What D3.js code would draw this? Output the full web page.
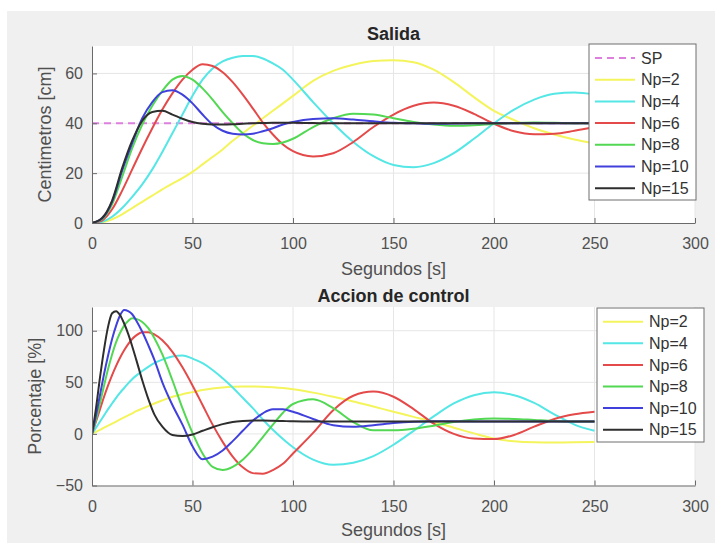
<!DOCTYPE html>
<html>
<head>
<meta charset="utf-8">
<script src="https://cdn.jsdelivr.net/npm/d3@7"></script>
<style>
  body { margin: 0; background: #fff; }
  svg { display: block; font-family: "Liberation Sans", Arial, sans-serif; }
</style>
</head>
<body>
<svg id="chart" width="715" height="543"></svg>
<script>
// time axis of the "Salida" panel (s)
const T = [0, 5, 10, 15, 20, 25, 30, 35, 40, 45, 50, 55, 60, 65, 70, 75, 80, 85, 90, 95,
  100, 110, 120, 130, 140, 150, 160, 170, 180, 190, 200, 210, 220, 230, 240, 250];

// output level (cm)
const yNp2 = [0, 0.3, 1.5, 3.5, 6, 8.5, 11, 13.5, 15.8, 18, 20.5, 23.5, 26.5, 29.5, 33, 36, 39, 42, 45, 48,
  51, 57, 61, 63.5, 65, 65.3, 64.5, 61.5, 56.5, 50.5, 45, 41.3, 38, 35.5, 33.5, 32];
const yNp4 = [0, 0.5, 2.5, 6, 10.5, 15.5, 21.5, 28.5, 36, 43.5, 51, 57.5, 62, 64.8, 66.3, 67, 67, 66, 64, 61.5,
  57.5, 48.5, 40, 32.5, 26.8, 23.3, 22.4, 24, 28, 33.8, 40, 45.5, 49.5, 51.8, 52.3, 51.5];
const yNp6 = [0, 1, 5.5, 13, 21.5, 30, 38, 45.5, 52, 57.5, 61.5, 63.7, 63, 60.5, 56.5, 51.5, 46, 40.3, 35.5, 31.5,
  28.8, 26.7, 28, 32.5, 38.5, 43.5, 47, 48.3, 47, 43.8, 39.8, 36.8, 35.6, 35.8, 37, 38.5];
const yNp8 = [0, 1.5, 7.5, 18.5, 30, 39.5, 47, 53, 57.5, 59, 57.5, 54, 49.5, 44.5, 40, 36, 33.3, 32, 31.7, 32.3,
  33.8, 38.5, 42, 43.8, 43.5, 42, 40.5, 39.5, 39, 39.2, 39.7, 40.1, 40.3, 40.2, 40, 40];
const yNp10 = [0, 1.8, 8.5, 21, 32, 42, 48.5, 52.5, 53.3, 51.5, 48, 43.5, 39.5, 37, 35.8, 35.5, 35.8, 36.8, 38, 39.5,
  40.5, 41.7, 42, 41.5, 40.8, 40.2, 40, 39.8, 39.9, 40, 40, 40, 40, 40, 40, 40];
const yNp15 = [0, 2, 9, 22, 33, 41, 44.5, 45, 43.5, 41.8, 40.5, 39.8, 39.5, 39.5, 39.6, 39.8, 40, 40.1, 40.2, 40.2,
  40.2, 40.1, 40, 40, 40, 40, 40, 40, 40, 40, 40, 40, 40, 40, 40, 40];

// set point
const spT = [0, 250];
const spY = [40, 40];

// time axis of the "Accion de control" panel (s)
const Tu = [0, 2, 4, 6, 8, 10, 12, 14, 16, 18, 20, 22, 25, 28, 31, 35, 40, 45, 50, 55,
  60, 65, 70, 75, 80, 85, 90, 95, 100, 110, 120, 130, 140, 150, 160, 170, 180, 190, 200, 210,
  220, 230, 240, 250];

// control action (%)
const uNp2 = [0, 2, 4, 6, 8, 10, 12, 14, 16, 18, 20, 22, 24.5, 27, 29.5, 32.5, 36, 38.5, 40.5, 42.5,
  44, 45, 45.7, 46, 46, 45.8, 45.3, 44.5, 43.3, 40, 36, 31.5, 26.5, 21.5, 16.5, 11.5, 6, 0.5, -4.5, -7.2,
  -8.2, -8.4, -8.2, -7.8];
const uNp4 = [0, 6, 12, 18, 24, 29.5, 35, 40, 44.5, 49, 53, 56.5, 61, 65, 68.5, 72, 75, 76, 73, 68.5,
  62, 54, 45, 35, 25, 14, 4, -5, -13, -25, -30, -28, -21.5, -10.5, 3, 17, 29.5, 37.5, 40.3, 37.5,
  30, 19, 9, 3];
const uNp6 = [0, 12, 24, 36, 47, 57, 66, 74, 81, 87, 92, 95.5, 98.5, 98.5, 96.4, 90.7, 79.5, 64.5, 47, 28,
  9, -7.7, -22, -32.4, -38, -38.6, -35, -29, -19, 1, 23, 37, 41, 36, 24, 10, 0, -4.5, -5, -1,
  7, 14.5, 19, 21.5];
const uNp8 = [0, 14, 30, 47, 63, 77, 89, 98, 105, 109.5, 112, 111.5, 108.5, 102.5, 93, 77, 52, 25, 1, -19,
  -32, -35, -32, -25, -15, -3, 9, 20.5, 29, 33.5, 25, 11.5, 3.5, 3.5, 5, 8, 11.5, 14, 15, 14.5,
  13.5, 12.5, 12, 12];
const uNp10 = [0, 18, 38, 58, 76, 92, 105, 115, 120, 119, 116, 110, 99, 86, 72, 50, 28, 9, -12, -24.5,
  -22, -16, -7, 3, 12.7, 20, 23.8, 23.8, 21.5, 14.5, 8.5, 7, 8.5, 10.5, 11.8, 12.3, 12.2, 12, 12, 12,
  12, 12, 12, 12];
const uNp15 = [0, 25, 55, 82, 104, 117, 119, 115, 107, 97, 85, 72, 52, 34, 19, 7, -1, -2, -0.5, 3,
  6.5, 9.5, 11.5, 12.5, 13, 13, 12.8, 12.5, 12.2, 12, 12, 12, 12, 12, 12, 12, 12, 12, 12, 12,
  12, 12, 12, 12];

const NAMES = ["Np=2", "Np=4", "Np=6", "Np=8", "Np=10", "Np=15"];
const COLORS = ["#f4f45c", "#55e6e6", "#e44a4a", "#52d852", "#4040dc", "#2e2e2e"];
const X_TICKS = [0, 50, 100, 150, 200, 250, 300];

const svg = d3.select("#chart");
const PLOT_LEFT = 92, PLOT_RIGHT = 695;

// grey figure background
svg.append("rect")
  .attr("x", 7).attr("y", 11)
  .attr("width", 708).attr("height", 532)
  .attr("fill", "#f0f0f0");

const zip = (ts, vs) => ts.map((t, i) => [t, vs[i]]);

function panel(opt) {
  const x = d3.scaleLinear().domain([0, 300]).range([PLOT_LEFT, PLOT_RIGHT]);
  const y = d3.scaleLinear().domain(opt.yDomain).range([opt.bottom, opt.top]);
  const g = svg.append("g");

  g.append("rect")
    .attr("x", PLOT_LEFT).attr("y", opt.top)
    .attr("width", PLOT_RIGHT - PLOT_LEFT).attr("height", opt.bottom - opt.top)
    .attr("fill", "#fff");

  // grid
  g.append("g").selectAll("line").data(X_TICKS.slice(1)).join("line")
    .attr("x1", d => x(d)).attr("x2", d => x(d))
    .attr("y1", opt.top).attr("y2", opt.bottom)
    .attr("stroke", "#e6e6e6");
  g.append("g").selectAll("line").data(opt.yTicks.slice(1)).join("line")
    .attr("x1", PLOT_LEFT).attr("x2", PLOT_RIGHT)
    .attr("y1", d => y(d)).attr("y2", d => y(d))
    .attr("stroke", "#e6e6e6");

  const clipId = "clip" + opt.id;
  svg.append("clipPath").attr("id", clipId).append("rect")
    .attr("x", PLOT_LEFT).attr("y", opt.top)
    .attr("width", PLOT_RIGHT - PLOT_LEFT).attr("height", opt.bottom - opt.top);

  const line = d3.line()
    .x(d => x(d[0]))
    .y(d => y(d[1]))
    .curve(d3.curveMonotoneX);

  g.append("g").attr("clip-path", "url(#" + clipId + ")")
    .selectAll("path").data(opt.series).join("path")
    .attr("d", d => line(zip(d.t, d.v)))
    .attr("fill", "none")
    .attr("stroke", d => d.color)
    .attr("stroke-width", 2)
    .attr("stroke-dasharray", d => d.dash || null);

  // axes
  const xAxis = g.append("g")
    .attr("transform", "translate(0," + opt.bottom + ")")
    .call(d3.axisBottom(x).tickValues(X_TICKS).tickSizeInner(-5).tickSizeOuter(0).tickPadding(15));
  const yAxis = g.append("g")
    .attr("transform", "translate(" + PLOT_LEFT + ",0)")
    .call(d3.axisLeft(y).tickValues(opt.yTicks).tickSizeInner(-5).tickSizeOuter(0).tickPadding(9));
  [xAxis, yAxis].forEach(a => {
    a.select(".domain").attr("stroke", "#6a6a6a");
    a.selectAll(".tick line").attr("stroke", "#6a6a6a");
    a.selectAll("text").attr("font-size", 16).attr("fill", "#505050")
      .attr("font-family", "Liberation Sans, Arial, sans-serif");
  });

  // texts
  g.append("text")
    .attr("x", (PLOT_LEFT + PLOT_RIGHT) / 2).attr("y", opt.titleY)
    .attr("text-anchor", "middle")
    .attr("font-size", 18).attr("font-weight", "bold").attr("fill", "#262626")
    .text(opt.title);
  g.append("text")
    .attr("x", (PLOT_LEFT + PLOT_RIGHT) / 2).attr("y", opt.xLabelY)
    .attr("text-anchor", "middle")
    .attr("font-size", 18).attr("fill", "#505050")
    .text("Segundos [s]");
  g.append("text")
    .attr("transform", "translate(" + opt.yLabelX + "," + (opt.top + opt.bottom) / 2 + ") rotate(-90)")
    .attr("text-anchor", "middle")
    .attr("dy", "0.35em")
    .attr("font-size", 18).attr("fill", "#505050")
    .text(opt.yLabel);

  // legend
  const L = opt.legend;
  const lg = g.append("g");
  lg.append("rect")
    .attr("x", L.x).attr("y", L.y).attr("width", L.w).attr("height", L.h)
    .attr("fill", "#fff").attr("stroke", "#6e6e6e");
  const item = lg.selectAll("g").data(opt.series).join("g")
    .attr("transform", (d, i) => "translate(0," + (L.first + i * L.step) + ")");
  item.append("line")
    .attr("x1", L.lineX).attr("x2", L.lineX + 40)
    .attr("stroke", d => d.color).attr("stroke-width", 2)
    .attr("stroke-dasharray", d => d.dash || null);
  item.append("text")
    .attr("x", L.lineX + 46).attr("dy", "0.35em")
    .attr("font-size", 16).attr("fill", "#333")
    .text(d => d.name);
}

const outSeries = [{ name: "SP", color: "#dd80dd", dash: "7,5", t: spT, v: spY }]
  .concat([yNp2, yNp4, yNp6, yNp8, yNp10, yNp15].map((v, i) => ({ name: NAMES[i], color: COLORS[i], t: T, v: v })));
const ctrlSeries = [uNp2, uNp4, uNp6, uNp8, uNp10, uNp15]
  .map((v, i) => ({ name: NAMES[i], color: COLORS[i], t: Tu, v: v }));

panel({
  id: 1, top: 46, bottom: 223, yDomain: [0, 71], yTicks: [0, 20, 40, 60],
  title: "Salida", titleY: 40, xLabelY: 275, yLabel: "Centimetros [cm]", yLabelX: 45,
  series: outSeries,
  legend: { x: 589, y: 44, w: 107, h: 156, first: 58, step: 21.7, lineX: 595 }
});

panel({
  id: 2, top: 307, bottom: 485.5, yDomain: [-50, 123], yTicks: [-50, 0, 50, 100],
  title: "Accion de control", titleY: 302, xLabelY: 536, yLabel: "Porcentaje [%]", yLabelX: 35,
  series: ctrlSeries,
  legend: { x: 597, y: 308, w: 107, h: 134, first: 321.7, step: 21.6, lineX: 603 }
});
</script>
</body>
</html>
